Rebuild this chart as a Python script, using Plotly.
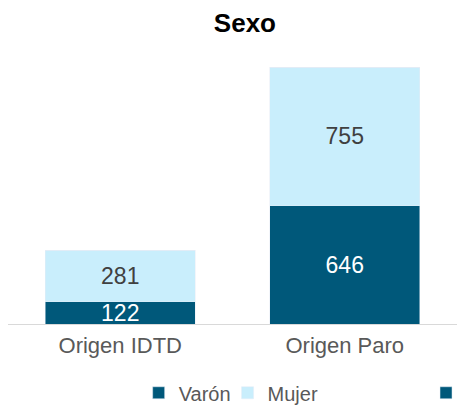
import plotly.graph_objects as go

categories = ["Origen IDTD", "Origen Paro"]
varon = [122, 646]
mujer = [281, 755]
series_names = ["Varón", "Mujer", "F"]

DARK = "#00587A"
LIGHT = "#C9EEFC"
FONT = "Liberation Sans, Arial, sans-serif"

fig = go.Figure()
fig.add_trace(go.Bar(
    x=categories, y=varon, name=series_names[0], marker_color=DARK,
    text=varon, textposition="inside", insidetextanchor="middle",
    textfont=dict(color="white", size=23, family=FONT),
))
fig.add_trace(go.Bar(
    x=categories, y=mujer, name=series_names[1], marker_color=LIGHT,
    text=mujer, textposition="inside", insidetextanchor="middle",
    textfont=dict(color="#404040", size=23, family=FONT),
    legend="legend3",
))
fig.add_trace(go.Bar(
    x=categories, y=[0, 0], name=series_names[2], marker_color=DARK,
    legend="legend2", hoverinfo="skip", textposition="none",
))

leg_font = dict(size=20, color="#595959")
clear = "rgba(0,0,0,0)"
fig.update_layout(
    width=457, height=405,
    margin=dict(l=8, r=0, t=49, b=81, autoexpand=False),
    barmode="stack", bargap=0.333,
    plot_bgcolor="white", paper_bgcolor="white",
    font=dict(family=FONT, color="#595959"),
    title=dict(text="<b>Sexo</b>", x=0.536, xanchor="center", y=0.943, yanchor="middle",
               font=dict(size=26, color="black", family=FONT)),
    xaxis=dict(showline=True, linecolor="#D9D9D9", linewidth=1, ticks="",
               ticklabelstandoff=2,
               tickfont=dict(size=22, color="#595959")),
    yaxis=dict(range=[0, 1500], visible=False),
    showlegend=True,
    uniformtext=dict(mode="show", minsize=23),
    legend=dict(orientation="h", x=0.291, xanchor="left", y=-0.25, yanchor="middle",
                font=leg_font, bgcolor=clear),
    legend3=dict(orientation="h", x=0.489, xanchor="left", y=-0.25, yanchor="middle",
                 font=leg_font, bgcolor=clear),
    legend2=dict(orientation="h", x=0.931, xanchor="left", y=-0.25, yanchor="middle",
                 font=leg_font, bgcolor=clear),
)

fig.write_html("out.html", config={"displayModeBar": False},
               post_script="document.body.style.margin='0';")
